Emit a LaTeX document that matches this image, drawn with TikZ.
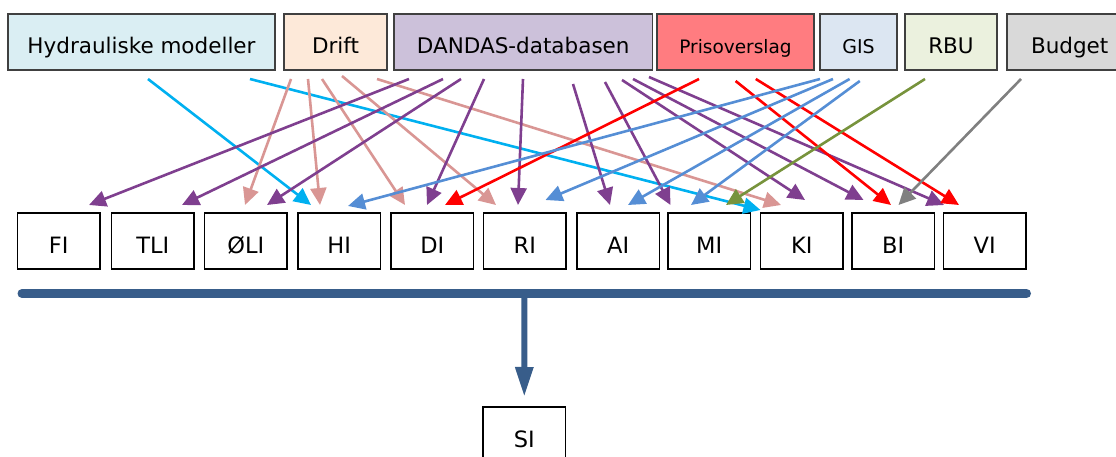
\documentclass[tikz,border=0pt]{standalone}
\usepackage{fontspec}
\setmainfont{DejaVu Sans}
\usetikzlibrary{arrows.meta}
\definecolor{boxgray}{HTML}{404040}
\definecolor{hydfill}{HTML}{DAEEF3}
\definecolor{driftfill}{HTML}{FDE9D9}
\definecolor{dandasfill}{HTML}{CCC1DA}
\definecolor{prisfill}{HTML}{FF7C80}
\definecolor{gisfill}{HTML}{DCE6F2}
\definecolor{rbufill}{HTML}{EBF1DE}
\definecolor{budgetfill}{HTML}{D9D9D9}
\definecolor{cyanA}{HTML}{00B0F0}
\definecolor{pinkA}{HTML}{D99694}
\definecolor{purpA}{RGB}{127,63,143}
\definecolor{redA}{HTML}{FF0000}
\definecolor{blueA}{HTML}{558ED5}
\definecolor{greenA}{HTML}{77933C}
\definecolor{grayA}{HTML}{808080}
\definecolor{barblue}{RGB}{56,93,138}
\newcommand\link[7]{\draw[arr,#1] ([shift={(#3,#4)}]#2.south west) -- ([shift={(#6,#7)}]#5.north west);}
\begin{document}
\begin{tikzpicture}[x=1pt,y=-1pt,
  topbox/.style={draw=boxgray, line width=1.4pt, inner sep=0pt, outer sep=0pt,
    minimum height=56pt, text height=22.6pt, text depth=0pt, anchor=north west,
    font=\fontsize{21.5}{25}\selectfont},
  lowbox/.style={draw=black, line width=1.5pt, inner sep=0pt, outer sep=0pt,
    minimum width=82.5pt, minimum height=56pt, text height=25pt, text depth=0pt,
    anchor=north west, font=\fontsize{22.5}{26}\selectfont},
  arr/.style={line width=2.6pt, -{Triangle[length=17pt,width=16pt]}}]
\useasboundingbox (0,0) rectangle (1116,457);
\clip (0,0) rectangle (1116,457);
% top sources
\node[topbox, fill=hydfill, minimum width=267pt] (hyd) at (8,14) {Hydrauliske modeller};
\node[topbox, fill=driftfill, minimum width=103pt] (drift) at (284,14) {Drift};
\node[topbox, fill=dandasfill, minimum width=258.5pt] (dandas) at (394,14) {DANDAS-databasen};
\node[topbox, fill=prisfill, minimum width=157pt, font=\fontsize{18.5}{22}\selectfont] (pris) at (657,14) {Prisoverslag};
\node[topbox, fill=gisfill, minimum width=77pt, font=\fontsize{19}{22}\selectfont] (gis) at (820,14) {GIS};
\node[topbox, fill=rbufill, minimum width=92pt] (rbu) at (905,14) {RBU};
\node[topbox, fill=budgetfill, minimum width=130pt, text width=114pt, align=left] (budget) at (1007,14) {\hspace*{16pt}Budget};
% indicator boxes
\node[lowbox] (fi) at (17.5,213) {FI};
\node[lowbox] (tli) at (111.5,213) {TLI};
\node[lowbox] (oli) at (204.5,213) {ØLI};
\node[lowbox] (hi) at (298,213) {HI};
\node[lowbox] (di) at (391,213) {DI};
\node[lowbox] (ri) at (483.5,213) {RI};
\node[lowbox] (ai) at (577,213) {AI};
\node[lowbox] (mi) at (668,213) {MI};
\node[lowbox] (ki) at (760.5,213) {KI};
\node[lowbox] (bi) at (852,213) {BI};
\node[lowbox] (vi) at (943.5,213) {VI};
\node[lowbox] (si) at (483,407) {SI};
% bar
\coordinate (barL) at (22,293.5);
\coordinate (barR) at (1026.5,293.5);
\coordinate (barM) at (524.5,293.5);
\draw[barblue, line width=9pt, line cap=round] (barL) -- (barR);
\draw[barblue, line width=6pt, -{Triangle[length=30pt,width=17pt]}] (barM) -- ([shift={(0,-10)}]si.north);
% Hydrauliske modeller
\link{cyanA}{hyd}{140}{9}{hi}{13}{-8}
\link{cyanA}{hyd}{242}{9}{ki}{0}{-3}
% Drift
\link{pinkA}{drift}{7}{9}{oli}{40.5}{-8}
\link{pinkA}{drift}{24}{9}{hi}{22}{-8}
\link{pinkA}{drift}{38}{9}{di}{14}{-8}
\link{pinkA}{drift}{58}{6}{ri}{12.5}{-8}
\link{pinkA}{drift}{93}{9}{ki}{20.5}{-8}
% DANDAS
\link{purpA}{dandas}{15}{9}{fi}{71.5}{-8}
\link{purpA}{dandas}{49}{9}{tli}{70.5}{-8}
\link{purpA}{dandas}{67}{9}{oli}{62.5}{-8}
\link{purpA}{dandas}{90}{9}{di}{36}{-8}
\link{purpA}{dandas}{129}{9}{ri}{34.5}{-8}
\link{purpA}{dandas}{179}{14}{ai}{33}{-8}
\link{purpA}{dandas}{211}{12}{mi}{2.5}{-8}
\link{purpA}{dandas}{228}{10}{ki}{44.5}{-13}
\link{purpA}{dandas}{239}{9}{bi}{11.5}{-13}
\link{purpA}{dandas}{255}{7}{vi}{0.5}{-8}
% Prisoverslag
\link{redA}{pris}{42}{9}{di}{54}{-8}
\link{redA}{pris}{78.6}{11}{bi}{39}{-8}
\link{redA}{pris}{98.8}{9}{vi}{15.5}{-8}
% GIS
\link{blueA}{gis}{0}{9}{hi}{50}{-7}
\link{blueA}{gis}{13}{9}{ri}{62}{-13}
\link{blueA}{gis}{29.6}{9}{ai}{51}{-8}
\link{blueA}{gis}{39.8}{11}{mi}{23}{-8}
% RBU, Budget
\link{greenA}{rbu}{20}{9}{mi}{58}{-8}
\link{grayA}{budget}{14}{9}{bi}{46.5}{-8}
\end{tikzpicture}
\end{document}
